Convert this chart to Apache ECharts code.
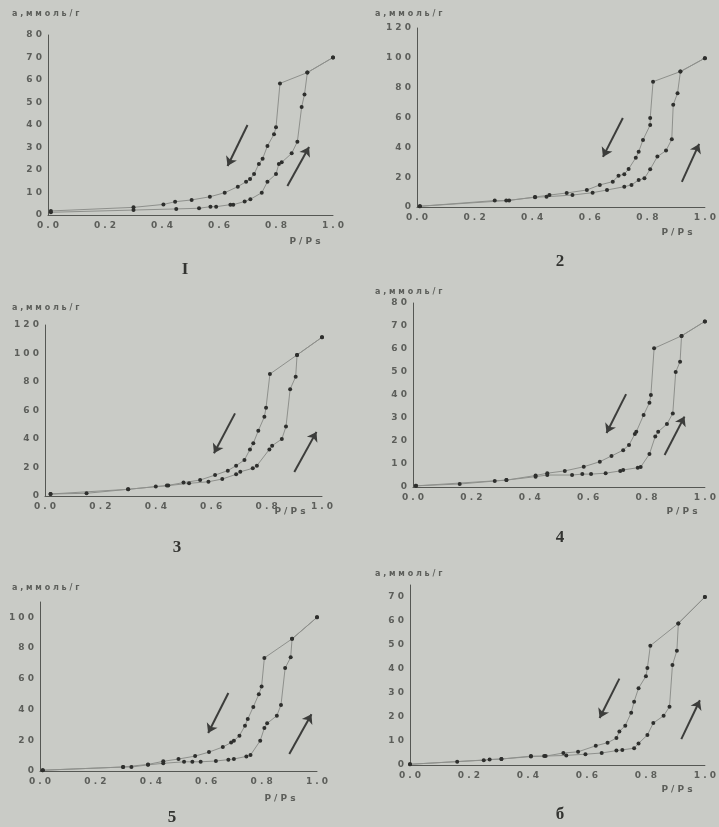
<!DOCTYPE html>
<html><head><meta charset="utf-8">
<script src="https://cdn.jsdelivr.net/npm/echarts@6/dist/echarts.min.js"></script>
<style>html,body{margin:0;padding:0;background:#c9cbc6}#c{width:719px;height:827px}</style>
</head><body><div id="c"></div>
<script>
// ---- data (P/Ps, a mmol/g) ----
const xTicks = [0, 0.2, 0.4, 0.6, 0.8, 1.0];
const yTitle = 'а,ммоль/г';
const xTitle = 'P/Ps';
const panelLabels = ['I', '2', '3', '4', '5', 'б'];
const yMax = [80, 120, 120, 80, 110, 75];
const yStep = [10, 20, 20, 10, 20, 10];

const ads1 = [[0.01,1.2],[0.30,2.2],[0.45,2.7],[0.53,3.0],[0.57,3.7],[0.59,3.7],[0.64,4.6],[0.65,4.6],[0.69,6.0],[0.71,7.0],[0.75,9.9],[0.77,14.8],[0.80,18.2],[0.81,22.7],[0.82,23.4],[0.855,27.4],[0.875,32.6],[0.89,48],[0.90,53.6],[0.91,63.3],[1.0,70]];
const des1 = [[1.0,70],[0.91,63.3],[0.814,58.5],[0.80,39],[0.793,35.9],[0.77,30.7],[0.753,25],[0.74,22.7],[0.723,18.2],[0.709,16],[0.695,14.8],[0.666,12.6],[0.62,9.9],[0.568,8.1],[0.504,6.7],[0.446,5.9],[0.405,4.7],[0.30,3.4],[0.01,1.8]];
const ads2 = [[0.01,0.5],[0.27,4.3],[0.31,4.3],[0.41,6.5],[0.45,6.9],[0.54,8],[0.61,9.6],[0.66,11.4],[0.72,13.6],[0.745,14.8],[0.77,18.1],[0.79,19.2],[0.81,25.3],[0.835,33.8],[0.865,37.8],[0.885,45.4],[0.89,68.5],[0.905,76.3],[0.915,90.8],[1.0,99.8]];
const des2 = [[1.0,99.8],[0.915,90.8],[0.82,84],[0.81,59.6],[0.81,55],[0.785,45],[0.77,37],[0.76,33],[0.735,25.5],[0.72,22],[0.70,21],[0.68,17],[0.635,14.8],[0.59,11.4],[0.52,9.4],[0.46,8],[0.41,6.7],[0.32,4.4],[0.01,0.5]];
const ads3 = [[0.02,1.4],[0.15,1.9],[0.30,4.7],[0.40,6.6],[0.445,7.3],[0.52,8.9],[0.59,10],[0.64,11.9],[0.69,15.2],[0.705,17],[0.75,19.4],[0.765,21.3],[0.81,32.7],[0.82,35.3],[0.855,40],[0.87,48.7],[0.885,75],[0.905,83.7],[0.91,99],[1.0,111.4]];
const des3 = [[1.0,111.4],[0.91,99],[0.812,85.6],[0.798,62],[0.792,55.6],[0.77,45.8],[0.752,37],[0.74,32.7],[0.72,25.3],[0.69,21.3],[0.66,17.8],[0.614,14.7],[0.56,11.2],[0.50,9.4],[0.44,7.3],[0.30,4.7],[0.02,1.4]];
const ads4 = [[0.01,0.5],[0.16,1.3],[0.28,2.6],[0.32,3],[0.42,4.5],[0.46,5.2],[0.545,5.2],[0.58,5.6],[0.61,5.6],[0.66,6],[0.71,7],[0.72,7.4],[0.77,8.4],[0.78,8.7],[0.81,14.3],[0.83,22],[0.84,24],[0.87,27.4],[0.89,32],[0.90,50],[0.915,54.5],[0.92,65.7],[1.0,72]];
const des4 = [[1.0,72],[0.92,65.7],[0.826,60.3],[0.815,40],[0.81,36.6],[0.79,31.3],[0.765,24],[0.76,23],[0.74,18.3],[0.72,16],[0.68,13.5],[0.64,11],[0.585,8.8],[0.52,7],[0.46,6],[0.42,5],[0.32,3],[0.01,0.5]];
const ads5 = [[0.01,0.5],[0.30,2.6],[0.33,2.6],[0.39,4],[0.445,5],[0.52,6],[0.55,6],[0.58,6],[0.635,6.5],[0.68,7.4],[0.70,7.8],[0.745,9.5],[0.76,10.4],[0.795,19.7],[0.81,28],[0.82,31],[0.855,36],[0.87,43],[0.885,67],[0.905,74],[0.91,86],[1.0,100]];
const des5 = [[1.0,100],[0.91,86],[0.81,73.6],[0.80,55],[0.79,50],[0.77,41.7],[0.75,33.8],[0.74,29.5],[0.72,23],[0.70,19.7],[0.69,18.5],[0.66,15.6],[0.61,12.3],[0.56,9.7],[0.50,7.8],[0.445,6.3],[0.39,4.3],[0.30,2.6],[0.01,0.5]];
const ads6 = [[0.0,0.3],[0.16,1.4],[0.25,2],[0.27,2.3],[0.31,2.5],[0.41,3.7],[0.455,3.7],[0.53,4],[0.595,4.5],[0.65,5],[0.70,6],[0.72,6.3],[0.76,7],[0.775,9],[0.805,12.5],[0.825,17.5],[0.86,20.5],[0.88,24.3],[0.89,41.7],[0.905,47.6],[0.91,59],[1.0,70]];
const des6 = [[1.0,70],[0.91,59],[0.815,49.7],[0.805,40.4],[0.80,37],[0.775,32],[0.76,26.4],[0.75,21.8],[0.73,16.4],[0.71,14],[0.70,11.2],[0.67,9.3],[0.63,8],[0.57,5.5],[0.52,5],[0.46,3.7],[0.41,3.5],[0.31,2.5],[0.0,0.3]];
// arrows: [x1,y1,x2,y2] in data units (desorption arrow, adsorption arrow)
const arrows1 = [[0.70,40,0.63,21.8],[0.84,12.9,0.916,30.2]];
const arrows2 = [[0.715,59.7,0.646,33.6],[0.92,16.8,0.98,42.3]];
const arrows3 = [[0.686,58,0.61,30],[0.90,16.8,0.98,45]];
const arrows4 = [[0.73,40.4,0.663,23.5],[0.862,13.9,0.93,30.6]];
const arrows5 = [[0.68,50.8,0.607,24.7],[0.90,11,0.98,37]];
const arrows6 = [[0.71,36,0.643,19.6],[0.92,10.8,0.983,27]];

const adsAll = [ads1, ads2, ads3, ads4, ads5, ads6];
const desAll = [des1, des2, des3, des4, des5, des6];
const arrowsAll = [arrows1, arrows2, arrows3, arrows4, arrows5, arrows6];

// ---- layout ----
const grids = [
  {left: 48, top: 35, width: 285, height: 180},
  {left: 417, top: 28, width: 288, height: 179},
  {left: 45, top: 325, width: 277, height: 171},
  {left: 413, top: 303, width: 297, height: 184},
  {left: 40, top: 602, width: 277, height: 169},
  {left: 410, top: 585, width: 297, height: 180}
];
const yTitlePos = [[12,15],[375,15],[12,309],[375,293],[12,589],[375,575]];
const xTitlePos = [[305,242],[677,233],[290,512],[682,512],[280,799],[677,790]];
const panelLabelPos = [[185,270],[560,262],[177,548],[560,538],[172,818],[560,815]];

const sp = s => s.split('').join(' ');
const chart = echarts.init(document.getElementById('c'), null, {renderer: 'canvas'});
const axisCol = '#555753';
const txtCol = '#5c5e5a';

const option = {
  backgroundColor: '#c9cbc6',
  animation: false,
  grid: grids.map(g => Object.assign({}, g)),
  xAxis: grids.map((g, i) => ({
    type: 'value', gridIndex: i, min: 0, max: 1, interval: 0.2,
    axisLine: {show: true, lineStyle: {color: axisCol, width: 1}},
    axisTick: {show: false}, splitLine: {show: false},
    axisLabel: {fontSize: 9, color: txtCol, margin: 6, fontFamily: 'DejaVu Sans', fontWeight: 'bold',
      formatter: v => sp(v.toFixed(1))}
  })),
  yAxis: grids.map((g, i) => ({
    type: 'value', gridIndex: i, min: 0, max: yMax[i], interval: yStep[i],
    axisLine: {show: true, lineStyle: {color: axisCol, width: 1}},
    axisTick: {show: false}, splitLine: {show: false},
    axisLabel: {fontSize: 9, color: txtCol, margin: 6, fontFamily: 'DejaVu Sans', fontWeight: 'bold',
      formatter: v => (Math.abs(v / yStep[i] - Math.round(v / yStep[i])) < 1e-6 ? sp(String(v)) : '')}
  })),
  series: [],
  graphic: []
};

for (let i = 0; i < 6; i++) {
  const base = {
    type: 'line', xAxisIndex: i, yAxisIndex: i,
    symbol: 'circle', symbolSize: 4, silent: true,
    itemStyle: {color: '#2e2f2d'},
    lineStyle: {color: '#8e908c', width: 1},
    emphasis: {disabled: true}
  };
  option.series.push(Object.assign({}, base, {
    name: 'adsorption' + (i + 1), data: adsAll[i],
    markLine: {
      silent: true, symbol: ['none', 'arrow'], symbolSize: 9,
      lineStyle: {color: '#3c3d3b', width: 2, type: 'solid'},
      label: {show: false}, emphasis: {disabled: true},
      data: arrowsAll[i].map(a => [{coord: [a[0], a[1]]}, {coord: [a[2], a[3]]}])
    }
  }));
  option.series.push(Object.assign({}, base, {name: 'desorption' + (i + 1), data: desAll[i]}));

  option.graphic.push({type: 'text', left: yTitlePos[i][0], top: yTitlePos[i][1] - 5,
    style: {text: sp(yTitle), fontSize: 8, fontWeight: 'bold', fill: txtCol, fontFamily: 'DejaVu Sans'}});
  option.graphic.push({type: 'text', x: xTitlePos[i][0], y: xTitlePos[i][1],
    style: {text: sp(xTitle), fontSize: 9, fontWeight: 'bold', fill: txtCol, fontFamily: 'DejaVu Sans', align: 'center', verticalAlign: 'middle'}});
  option.graphic.push({type: 'text', x: panelLabelPos[i][0], y: panelLabelPos[i][1],
    style: {text: panelLabels[i], fontSize: 17, fontWeight: 'bold', fill: '#333431', fontFamily: 'Liberation Serif', align: 'center', verticalAlign: 'middle'}});
}

chart.setOption(option);
</script>
</body></html>
